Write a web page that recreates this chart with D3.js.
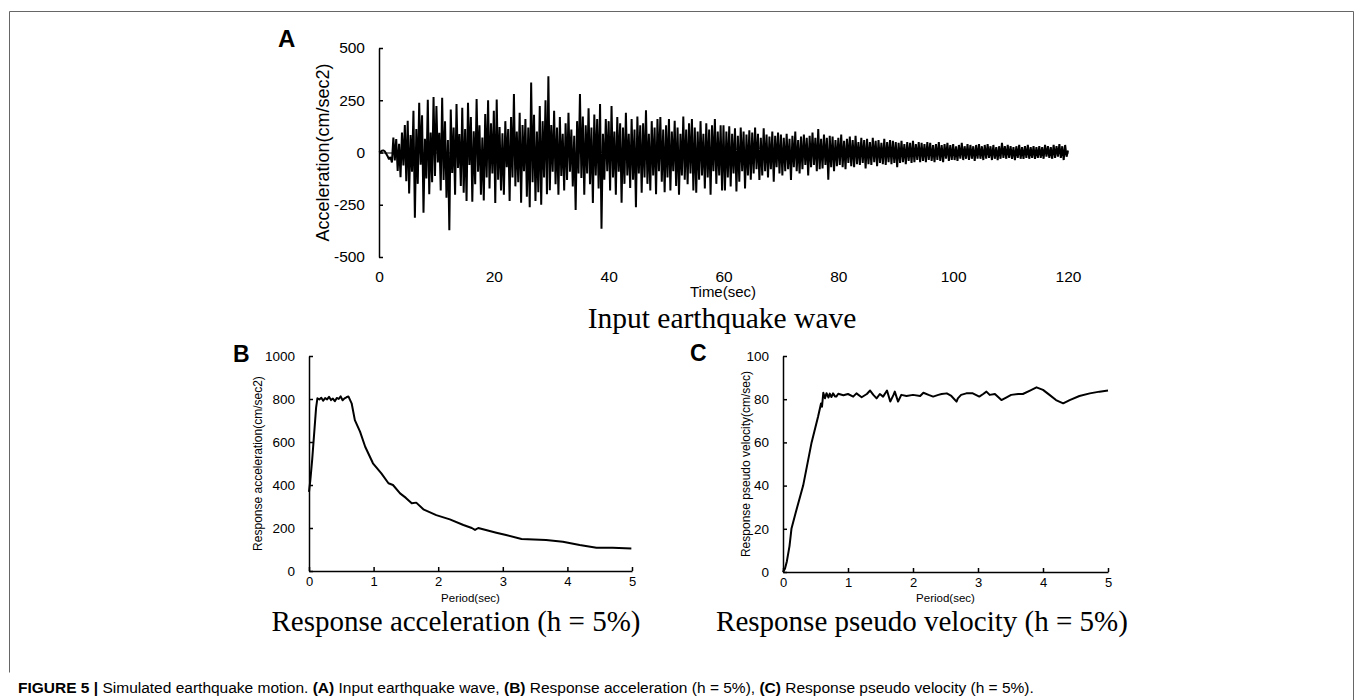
<!DOCTYPE html>
<html>
<head>
<meta charset="utf-8">
<script src="https://cdn.jsdelivr.net/npm/d3@7"></script>
<style>
  body { margin: 0; background: #fff; }
  svg text { fill: #000; }
</style>
</head>
<body>
<svg id="chart" width="1355" height="700"></svg>
<script>
(function () {
  'use strict';

  // A: input wave, one value every 0.25 s (cm/sec2)
  var waveStep = 0.25;
  var waveAccel = [
    0, 3, 8, 10, 6, -6, -18, -32, -22, -48, 72, -38, 64, -88, 42, -118, 96, -62, 132, -138,
    152, -196, 84, -92, 200, -312, 112, -150, 238, -58, 178, -288, 66, -124, 252, -200, 96, -142, 266, -112,
    222, -48, 94, -182, 262, -132, 150, -216, 60, -372, 206, -98, 120, -202, 232, -74, 88, -160, 214, -192,
    112, -232, 238, -60, 170, -236, 102, -152, 256, -92, 130, -202, 72, -230, 184, -120, 250, -172, 140, -100,
    200, -242, 254, -130, 122, -182, 92, -202, 150, -70, 112, -232, 170, -120, 280, -162, 100, -142, 190, -240,
    132, -90, 160, -212, 120, -262, 335, -142, 180, -232, 100, -190, 222, -250, 150, -120, 250, -200, 365, -180,
    132, -92, 200, -152, 120, -202, 170, -112, 90, -182, 140, -132, 190, -92, 110, -162, 80, -275, 150, -100,
    280, -122, 172, -202, 130, -100, 212, -152, 120, -242, 182, -110, 160, -172, 232, -365, 90, -130, 160, -90,
    150, -182, 222, -120, 100, -202, 170, -92, 140, -240, 120, -150, 190, -110, 90, -170, 160, -130, 110, -262,
    172, -100, 130, -192, 140, -120, 202, -150, 90, -182, 150, -110, 120, -200, 160, -90, 170, -140, 110, -190,
    130, -120, 160, -182, 100, -90, 152, -160, 120, -202, 90, -110, 172, -130, 110, -152, 140, -100, 160, -182,
    120, -192, 100, -130, 150, -110, 90, -172, 140, -120, 110, -202, 130, -90, 160, -150, 100, -110, 130, -182,
    130, -182, 100, -120, 126, -162, 90, -100, 116, -186, 80, -140, 120, -90, 100, -172, 86, -110, 106, -130,
    96, -100, 120, -80, 90, -132, 70, -110, 116, -90, 86, -120, 76, -80, 100, -140, 80, -70, 96, -100,
    86, -110, 70, -90, 90, -80, 66, -132, 80, -70, 100, -90, 60, -100, 76, -80, 86, -60, 70, -110,
    80, -70, 96, -60, 70, -90, 112, -80, 66, -76, 86, -60, 70, -130, 80, -70, 76, -90, 60, -66,
    70, -60, 86, -70, 56, -80, 66, -50, 76, -66, 60, -70, 80, -56, 50, -60, 70, -50, 60, -76,
    66, -56, 50, -60, 70, -46, 56, -66, 60, -50, 46, -56, 66, -60, 50, -46, 60, -56, 56, -50,
    50, -70, 46, -50, 56, -46, 40, -56, 50, -40, 46, -50, 56, -46, 40, -36, 50, -46, 46, -40,
    40, -46, 50, -36, 46, -40, 36, -46, 40, -36, 50, -40, 36, -46, 40, -30, 46, -40, 36, -36,
    40, -36, 30, -40, 36, -30, 46, -36, 30, -30, 40, -36, 36, -30, 30, -40, 36, -30, 40, -30,
    30, -36, 36, -30, 40, -26, 30, -36, 36, -30, 26, -36, 30, -30, 46, -26, 30, -30, 36, -26,
    30, -30, 26, -36, 30, -26, 36, -30, 26, -30, 30, -26, 36, -30, 26, -26, 30, -30, 26, -26,
    30, -26, 26, -30, 36, -20, 30, -26, 26, -30, 36, -26, 30, -20, 40, -26, 30, -36, 36, -20,
    10
  ];
  var waveTimeTicks = [0, 20, 40, 60, 80, 100, 120];
  var waveAccelTicks = [-500, -250, 0, 250, 500];

  // B: response acceleration spectrum
  var periodB = [0, 0.02, 0.05, 0.08, 0.11, 0.13,
    0.16, 0.19, 0.22, 0.25, 0.28, 0.31, 0.34, 0.37, 0.40, 0.43, 0.46, 0.49, 0.52, 0.55, 0.58, 0.61,
    0.66, 0.71, 0.79, 0.87, 0.99, 1.12, 1.23, 1.30, 1.41, 1.50, 1.59, 1.66, 1.77, 1.97, 2.18, 2.39,
    2.52, 2.57, 2.62, 2.90, 3.05, 3.29, 3.67, 3.93, 4.19, 4.45, 4.70, 4.99];
  var accelB = [368, 420, 520, 640, 760, 803,
    798, 806, 792, 804, 798, 810, 795, 802, 790, 805, 800, 812, 794, 803, 808, 812,
    780, 702, 648, 578, 501, 454, 408, 400, 361, 340, 315, 318, 287, 260, 240, 214,
    200, 191, 200, 178, 167, 149, 144, 136, 121, 108, 108, 105];
  var accelTicks = [0, 200, 400, 600, 800, 1000];

  // C: response pseudo velocity spectrum
  var periodC = [0, 0.03, 0.06, 0.10, 0.13, 0.20, 0.31, 0.44, 0.54, 0.585,
    0.60, 0.62, 0.645, 0.67, 0.70, 0.72, 0.745, 0.77, 0.80, 0.82,
    0.85, 0.875, 0.93, 1.00, 1.08, 1.13, 1.21, 1.29, 1.34, 1.39,
    1.44, 1.49, 1.54, 1.60, 1.65, 1.70, 1.72, 1.77, 1.82, 1.90,
    2.00, 2.11, 2.16, 2.24, 2.31, 2.39, 2.44, 2.52, 2.59, 2.67,
    2.69, 2.74, 2.82, 2.92, 3.02, 3.08, 3.13, 3.18, 3.26, 3.36,
    3.44, 3.51, 3.62, 3.69, 3.80, 3.90, 4.00, 4.10, 4.20, 4.31,
    4.41, 4.56, 4.72, 4.87, 5.00];
  var velocC = [0, 1.5, 5, 12, 20, 28, 40, 60, 72, 78,
    76.5, 83, 80.4, 82.8, 80.8, 82.6, 81, 82.7, 81.3, 81.2,
    82.5, 82.3, 81.8, 82.4, 81.2, 82.7, 80.9, 82.4, 84.0, 82.0,
    80.4, 82.4, 81.2, 84.0, 78.9, 82.0, 83.5, 78.9, 82.0, 81.5,
    82.0, 81.5, 83.0, 82.0, 81.2, 82.0, 82.4, 82.7, 81.5, 78.9,
    80.4, 82.0, 82.7, 82.7, 81.2, 82.4, 83.5, 82.0, 82.4, 79.6,
    80.9, 82.0, 82.4, 82.4, 84.0, 85.5, 84.3, 82.0, 79.6, 78.1,
    79.6, 81.5, 82.7, 83.5, 84.0];
  var velocTicks = [0, 20, 40, 60, 80, 100];
  var periodTicks = [0, 1, 2, 3, 4, 5];

  var sans = '"Liberation Sans", Arial, sans-serif';
  var serif = '"Liberation Serif", "Times New Roman", serif';
  var plain = function (d) { return String(d); };
  var svg = d3.select('#chart');

  // figure frame
  svg.append('path')
    .attr('d', 'M9.5,672.5V11.5H1353.5V700')
    .attr('fill', 'none')
    .attr('stroke', '#666')
    .attr('stroke-width', 1);

  drawWave();

  drawSpectrum({
    letter: 'B', letterX: 233, letterY: 362,
    xRange: [309, 632], yRange: [571, 356], yDomain: [0, 1000],
    xs: periodB, ys: accelB, yTicks: accelTicks,
    yTitle: 'Response acceleration(cm/sec2)', yTitleX: 258,
    title: 'Response acceleration (h = 5%)', titleX: 456
  });

  drawSpectrum({
    letter: 'C', letterX: 690, letterY: 361,
    xRange: [783, 1108], yRange: [572, 356], yDomain: [0, 100],
    xs: periodC, ys: velocC, yTicks: velocTicks,
    yTitle: 'Response pseudo velocity(cm/sec)', yTitleX: 746,
    title: 'Response pseudo velocity (h = 5%)', titleX: 922
  });

  drawCaption();

  function styleAxis(g, size) {
    g.selectAll('path, line').attr('stroke', '#000').attr('stroke-width', 1.5);
    g.selectAll('text').attr('font-family', sans).attr('font-size', size).attr('fill', '#000');
  }

  function drawWave() {
    var x = d3.scaleLinear().domain([0, 120]).range([379, 1068]);
    var y = d3.scaleLinear().domain([-500, 500]).range([257, 48]);
    var g = svg.append('g');

    var yAxis = g.append('g')
      .attr('transform', 'translate(' + x(0) + ',0)')
      .call(d3.axisLeft(y).tickValues(waveAccelTicks).tickSizeInner(-4).tickSizeOuter(0)
        .tickPadding(14).tickFormat(plain));
    styleAxis(yAxis, 15.5);

    // zero line acts as the time axis
    var zeroAxis = g.append('g')
      .attr('transform', 'translate(0,' + y(0) + ')')
      .call(d3.axisBottom(x).tickValues(waveTimeTicks).tickSize(0).tickFormat(''));
    zeroAxis.selectAll('path').attr('stroke', '#000').attr('stroke-width', 1);

    var labelAxis = g.append('g')
      .attr('transform', 'translate(0,269)')
      .call(d3.axisBottom(x).tickValues(waveTimeTicks).tickSize(0).tickPadding(2).tickFormat(plain));
    labelAxis.select('.domain').remove();
    styleAxis(labelAxis, 15.5);

    var line = d3.line()
      .x(function (d, i) { return x(i * waveStep); })
      .y(function (d) { return y(d); });

    g.append('path')
      .datum(waveAccel)
      .attr('d', line)
      .attr('fill', 'none')
      .attr('stroke', '#000')
      .attr('stroke-width', 2)
      .attr('stroke-linejoin', 'bevel');

    g.append('text')
      .attr('x', 723).attr('y', 297)
      .attr('text-anchor', 'middle')
      .attr('font-family', sans).attr('font-size', 15)
      .text('Time(sec)');

    g.append('text')
      .attr('transform', 'translate(323,' + y(0) + ') rotate(-90)')
      .attr('text-anchor', 'middle')
      .attr('dominant-baseline', 'central')
      .attr('font-family', sans).attr('font-size', 18)
      .text('Acceleration(cm/sec2)');

    g.append('text')
      .attr('x', 278).attr('y', 47)
      .attr('font-family', sans).attr('font-size', 24).attr('font-weight', 'bold')
      .text('A');

    g.append('text')
      .attr('x', 722).attr('y', 328)
      .attr('text-anchor', 'middle')
      .attr('font-family', serif).attr('font-size', 29.5)
      .text('Input earthquake wave');
  }

  function drawSpectrum(o) {
    var x = d3.scaleLinear().domain([0, 5]).range(o.xRange);
    var y = d3.scaleLinear().domain(o.yDomain).range(o.yRange);
    var g = svg.append('g');

    var yAxis = g.append('g')
      .attr('transform', 'translate(' + o.xRange[0] + ',0)')
      .call(d3.axisLeft(y).tickValues(o.yTicks).tickSizeInner(-4).tickSizeOuter(0)
        .tickPadding(14).tickFormat(plain));
    styleAxis(yAxis, 13.5);

    var xAxis = g.append('g')
      .attr('transform', 'translate(0,' + o.yRange[0] + ')')
      .call(d3.axisBottom(x).tickValues(periodTicks).tickSizeInner(-4).tickSizeOuter(0)
        .tickPadding(6).tickFormat(plain));
    styleAxis(xAxis, 13);

    var line = d3.line()
      .x(function (d, i) { return x(o.xs[i]); })
      .y(function (d) { return y(d); });

    g.append('path')
      .datum(o.ys)
      .attr('d', line)
      .attr('fill', 'none')
      .attr('stroke', '#000')
      .attr('stroke-width', 2)
      .attr('stroke-linejoin', 'round');

    var midX = (o.xRange[0] + o.xRange[1]) / 2;
    g.append('text')
      .attr('x', midX).attr('y', 602)
      .attr('text-anchor', 'middle')
      .attr('font-family', sans).attr('font-size', 11.5)
      .text('Period(sec)');

    g.append('text')
      .attr('transform', 'translate(' + o.yTitleX + ',' + ((o.yRange[0] + o.yRange[1]) / 2) + ') rotate(-90)')
      .attr('text-anchor', 'middle')
      .attr('dominant-baseline', 'central')
      .attr('font-family', sans).attr('font-size', 12)
      .text(o.yTitle);

    g.append('text')
      .attr('x', o.letterX).attr('y', o.letterY)
      .attr('font-family', sans).attr('font-size', 23).attr('font-weight', 'bold')
      .text(o.letter);

    g.append('text')
      .attr('x', o.titleX).attr('y', 631)
      .attr('text-anchor', 'middle')
      .attr('font-family', serif).attr('font-size', 29)
      .text(o.title);
  }

  function drawCaption() {
    var parts = [
      ['FIGURE 5 | ', true], ['Simulated earthquake motion. ', false],
      ['(A)', true], [' Input earthquake wave, ', false],
      ['(B)', true], [' Response acceleration (h = 5%), ', false],
      ['(C)', true], [' Response pseudo velocity (h = 5%).', false]
    ];
    var t = svg.append('text')
      .attr('x', 18).attr('y', 693)
      .attr('font-family', sans).attr('font-size', 15.5)
      .attr('xml:space', 'preserve');
    t.selectAll('tspan').data(parts).enter().append('tspan')
      .attr('font-weight', function (d) { return d[1] ? 'bold' : 'normal'; })
      .text(function (d) { return d[0]; });
  }
})();
</script>
</body>
</html>
